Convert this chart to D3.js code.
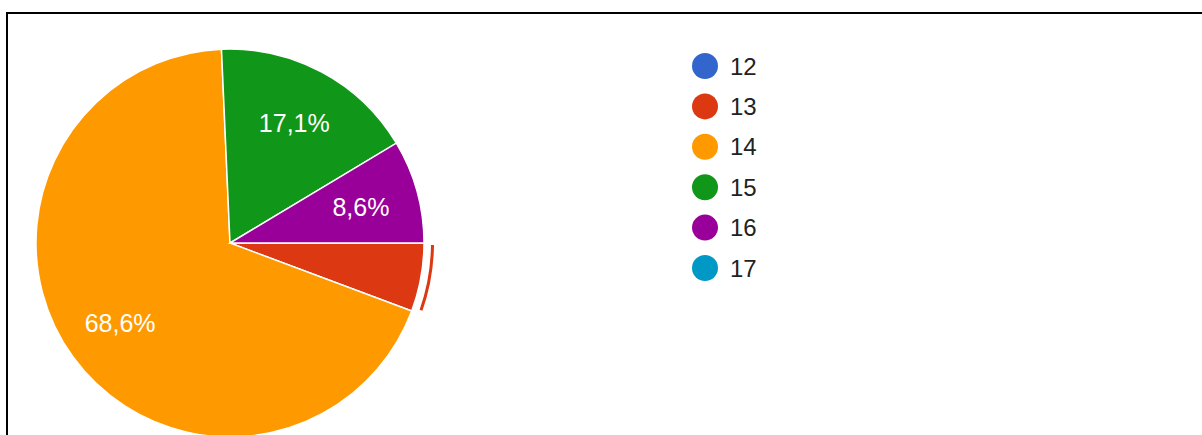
<!DOCTYPE html>
<html>
<head>
<meta charset="utf-8">
<script src="https://cdn.jsdelivr.net/npm/d3@7"></script>
<style>
  body { margin: 0; background: #fff; }
  svg { display: block; font-family: "Liberation Sans", Arial, sans-serif; }
</style>
</head>
<body>
<div class="content"></div>
<script>
// Data: answer categories and their share (%)
var categories = ["12", "13", "14", "15", "16", "17"];
var values = [0, 5.7, 68.6, 17.1, 8.6, 0];
var sliceLabels = ["", "", "68,6%", "17,1%", "8,6%", ""];
var colors = ["#3366cc", "#dc3912", "#ff9900", "#109618", "#990099", "#0099c6"];

var svgWidth = 1202;
var svgHeight = 435;

var svg = d3.select(".content")
  .append("svg")
  .attr("width", svgWidth)
  .attr("height", svgHeight);

// frame lines (top and left only are visible)
svg.append("line")
  .attr("x1", 7).attr("y1", 13).attr("x2", svgWidth).attr("y2", 13)
  .attr("stroke", "#000").attr("stroke-width", 2);
svg.append("line")
  .attr("x1", 7).attr("y1", 12).attr("x2", 7).attr("y2", svgHeight)
  .attr("stroke", "#000").attr("stroke-width", 2);

var cx = 230, cy = 243, radius = 194;

var pie = d3.pie()
  .sort(null)
  .value(d => d.value)
  .startAngle(Math.PI / 2)
  .endAngle(Math.PI / 2 + 2 * Math.PI);

var data = categories.map((c, i) => ({ name: c, value: values[i], label: sliceLabels[i], color: colors[i] }));
var arcs = pie(data);

var arc = d3.arc().innerRadius(0).outerRadius(radius);
var labelArc = d3.arc().innerRadius(radius * 0.7).outerRadius(radius * 0.7);

var pieGroup = svg.append("g")
  .attr("transform", `translate(${cx}, ${cy})`);

pieGroup.selectAll("path.slice")
  .data(arcs.filter(d => d.data.value > 0))
  .enter()
  .append("path")
  .attr("class", "slice")
  .attr("d", arc)
  .attr("fill", d => d.data.color)
  .attr("stroke", "#fff")
  .attr("stroke-width", 1.5);

// highlight ring on the "13" slice
var hl = arcs[1];
pieGroup.append("path")
  .attr("d", d3.arc()
    .innerRadius(radius + 7)
    .outerRadius(radius + 10)
    .startAngle(hl.startAngle + 0.01)
    .endAngle(hl.endAngle - 0.02)())
  .attr("fill", hl.data.color);

pieGroup.selectAll("text.pct")
  .data(arcs.filter(d => d.data.label))
  .enter()
  .append("text")
  .attr("class", "pct")
  .attr("transform", d => `translate(${labelArc.centroid(d)})`)
  .attr("text-anchor", "middle")
  .attr("dy", "0.36em")
  .attr("fill", "#fff")
  .style("font-size", "25px")
  .text(d => d.data.label);

// legend
var legend = svg.append("g")
  .attr("transform", "translate(705, 66)");

var rows = legend.selectAll("g")
  .data(data)
  .enter()
  .append("g")
  .attr("transform", (d, i) => `translate(0, ${i * 40.4})`);

rows.append("circle")
  .attr("r", 13)
  .attr("fill", d => d.color);

rows.append("text")
  .attr("x", 25)
  .attr("dy", "0.36em")
  .attr("fill", "#222")
  .style("font-size", "24px")
  .text(d => d.name);
</script>
</body>
</html>
